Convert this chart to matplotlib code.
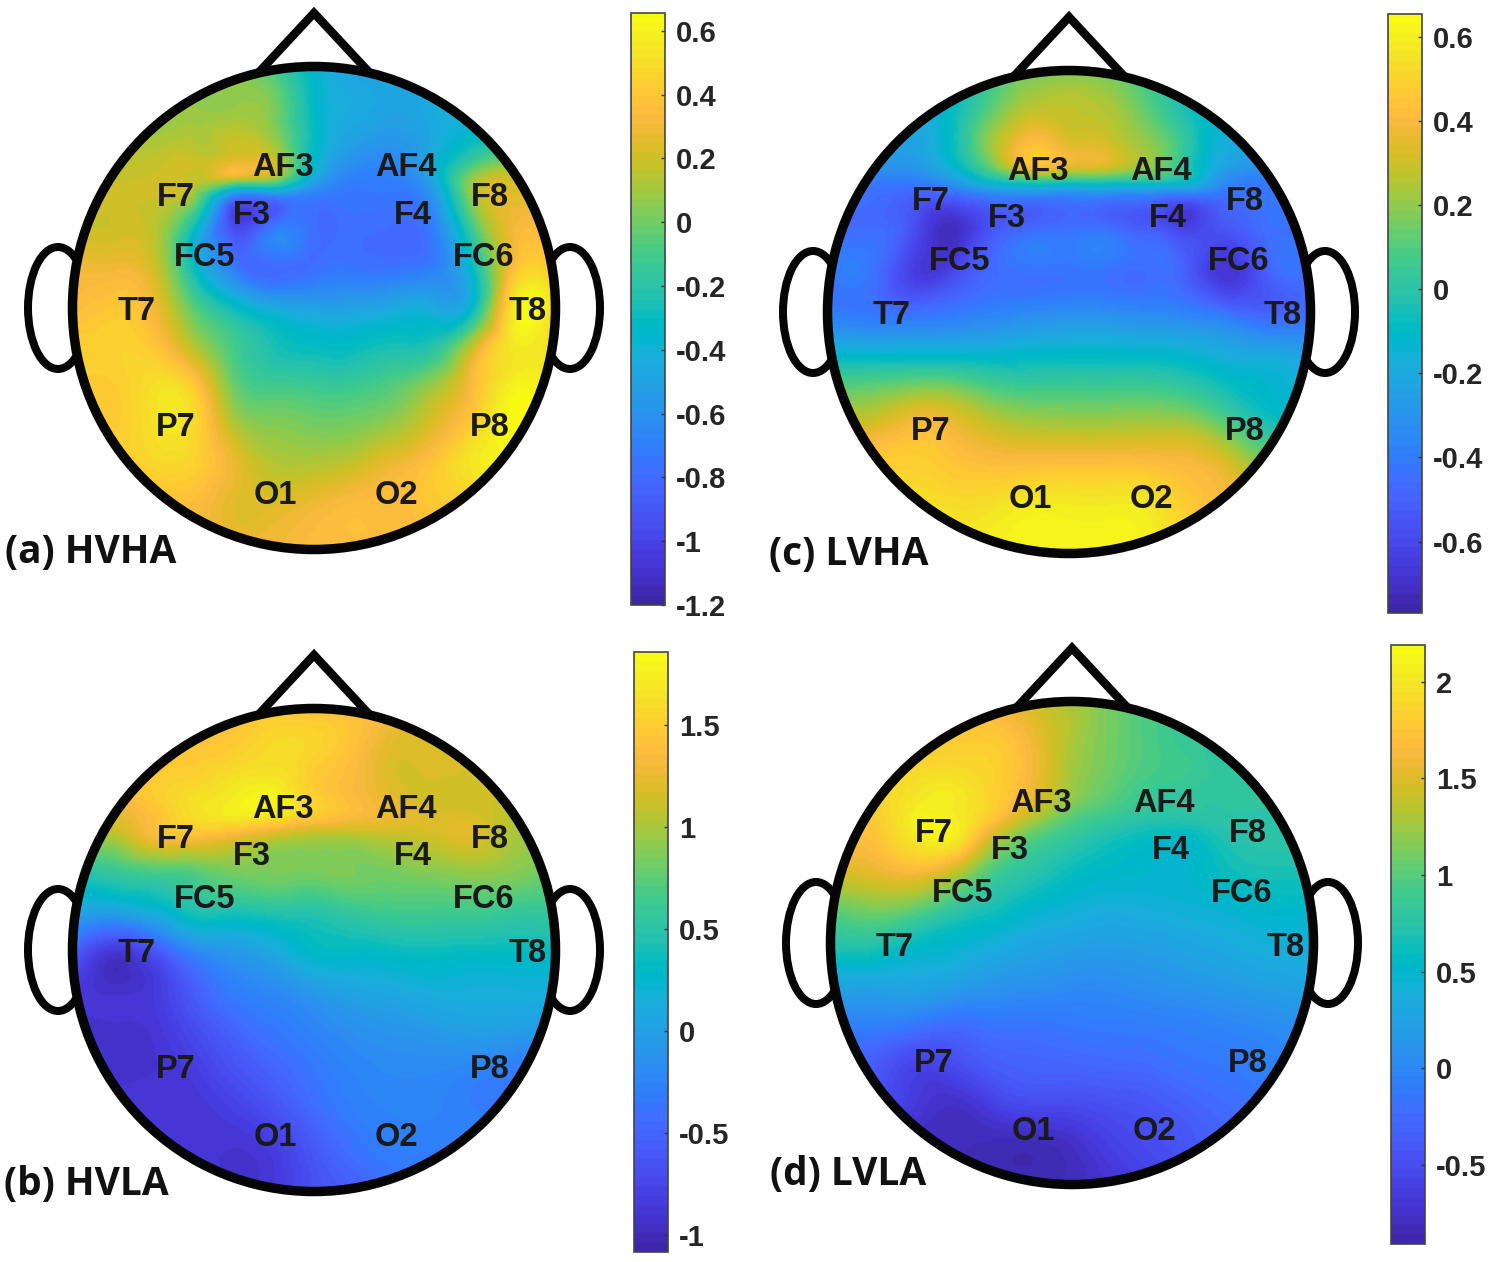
import numpy as np
import matplotlib
matplotlib.use("Agg")
import matplotlib.pyplot as plt
from matplotlib.colors import ListedColormap, Normalize
from matplotlib.cm import ScalarMappable
from matplotlib.patches import Circle, Ellipse
from matplotlib.tri import Triangulation, CubicTriInterpolator

W, H = 1499, 1262
PARULA = ListedColormap(np.array([
 [.2422,.1504,.6603],[.2504,.1650,.7076],[.2578,.1818,.7511],[.2647,.1978,.7952],[.2706,.2147,.8364],
 [.2751,.2342,.8710],[.2783,.2559,.8991],[.2803,.2782,.9221],[.2813,.3006,.9414],[.2810,.3228,.9579],
 [.2795,.3447,.9717],[.2760,.3667,.9829],[.2699,.3892,.9906],[.2602,.4123,.9952],[.2440,.4358,.9988],
 [.2206,.4603,.9973],[.1963,.4847,.9892],[.1834,.5074,.9798],[.1786,.5289,.9682],[.1764,.5499,.9520],
 [.1687,.5703,.9359],[.1540,.5902,.9218],[.1460,.6091,.9079],[.1380,.6276,.8973],[.1248,.6459,.8883],
 [.1113,.6635,.8763],[.0952,.6798,.8598],[.0689,.6948,.8394],[.0297,.7082,.8163],[.0036,.7203,.7917],
 [.0067,.7312,.7660],[.0433,.7411,.7394],[.0964,.7500,.7120],[.1408,.7584,.6842],[.1717,.7670,.6554],
 [.1938,.7758,.6251],[.2161,.7843,.5923],[.2470,.7918,.5567],[.2906,.7973,.5188],[.3406,.8008,.4789],
 [.3909,.8029,.4354],[.4456,.8024,.3909],[.5044,.7993,.3480],[.5616,.7942,.3045],[.6174,.7876,.2612],
 [.6720,.7793,.2227],[.7242,.7698,.1910],[.7738,.7598,.1646],[.8203,.7498,.1535],[.8634,.7406,.1596],
 [.9035,.7330,.1774],[.9393,.7288,.2100],[.9728,.7298,.2394],[.9956,.7434,.2371],[.9970,.7659,.2199],
 [.9952,.7893,.2028],[.9892,.8136,.1885],[.9786,.8386,.1766],[.9676,.8639,.1643],[.9610,.8890,.1537],
 [.9597,.9135,.1423],[.9628,.9373,.1265],[.9691,.9606,.1064],[.9769,.9839,.0805]]))

# scalp sample positions (relative units, 1 unit = 1 px of the reference head)
grid_x = [-240,-200,-160,-120,-80,-40,0,40,80,120,160,200,240]
grid_y = [-240,-200,-160,-145,-130,-115,-80,-40,0,40,80,120,160,200,240]

channels = ["AF3","AF4","F7","F8","F3","F4","FC5","FC6","T7","T8","P7","P8","O1","O2"]
channel_x = [-31,92,-138,176,-62,99,-109,170,-177,214,-138,176,-39,82]
channel_y = [-143,-143,-113,-113,-96,-96,-53,-53,1,1,117,117,185,185]

scalp_a = [
 [.08,.08,.08,.08,.08,-.1,-.35,-.5,-.5,-.5,-.45,-.4,-.4],
 [.08,.08,.08,.08,.08,.02,-.32,-.45,-.5,-.45,-.4,-.35,-.35],
 [.14,.14,.14,.15,.2,.12,-.32,-.55,-.6,-.45,-.25,-.15,-.15],
 [.15,.15,.18,.2,.28,.22,-.35,-.62,-.65,-.42,-.1,.05,.05],
 [.18,.18,.2,.18,.2,.08,-.45,-.7,-.7,-.45,.08,.2,.2],
 [.2,.2,.2,.08,-.55,-.55,-.68,-.74,-.74,-.55,.1,.25,.25],
 [.2,.2,.15,-.3,-.95,-.72,-.78,-.78,-.8,-.7,-.1,.3,.3],
 [.3,.3,.2,-.3,-.72,-.8,-.78,-.75,-.75,-.7,-.3,.35,.4],
 [.35,.4,.3,-.05,-.3,-.45,-.5,-.5,-.45,-.45,-.3,.55,.5],
 [.45,.45,.4,.15,-.1,-.25,-.3,-.3,-.25,-.2,.2,.55,.5],
 [.42,.42,.52,.42,0,-.1,-.12,-.12,-.05,.1,.35,.6,.55],
 [.42,.42,.52,.48,.15,.05,.02,.03,.1,.25,.45,.65,.6],
 [.42,.42,.46,.44,.28,.15,.15,.2,.3,.4,.55,.55,.55],
 [.35,.35,.35,.35,.25,.25,.3,.35,.35,.4,.4,.4,.4],
 [.3,.3,.3,.3,.3,.3,.35,.35,.35,.35,.35,.35,.35]]

scalp_c = [
 [-.1,-.1,-.1,-.1,.05,.15,.17,.15,.05,-.05,-.1,-.1,-.1],
 [-.2,-.2,-.2,-.1,.12,.28,.28,.25,.12,-.05,-.15,-.2,-.2],
 [-.25,-.25,-.25,-.1,.2,.46,.38,.34,.22,0,-.2,-.25,-.25],
 [-.3,-.3,-.3,-.15,.12,.4,.34,.31,.2,-.02,-.25,-.3,-.3],
 [-.4,-.4,-.4,-.3,-.1,0,-.02,-.02,-.03,-.1,-.35,-.4,-.4],
 [-.45,-.45,-.5,-.5,-.4,-.38,-.38,-.38,-.4,-.45,-.45,-.42,-.42],
 [-.45,-.45,-.55,-.72,-.55,-.45,-.43,-.43,-.5,-.6,-.55,-.45,-.45],
 [-.42,-.42,-.62,-.62,-.47,-.43,-.43,-.43,-.45,-.52,-.68,-.5,-.45],
 [-.4,-.42,-.45,-.42,-.38,-.35,-.33,-.33,-.35,-.38,-.45,-.5,-.45],
 [-.15,-.15,-.15,-.15,-.15,-.13,-.12,-.12,-.13,-.15,-.2,-.22,-.25],
 [.15,.15,.2,.2,.12,.08,.08,.08,.08,.04,-.05,-.12,-.15],
 [.35,.35,.42,.4,.32,.28,.27,.27,.28,.27,.15,0,-.05],
 [.5,.5,.5,.47,.45,.46,.47,.47,.46,.42,.35,.2,.2],
 [.5,.5,.55,.55,.56,.6,.6,.6,.58,.48,.4,.35,.35],
 [.6,.6,.6,.6,.6,.62,.62,.62,.6,.55,.5,.5,.5]]

scalp_b = [
 [1.4,1.4,1.4,1.4,1.4,1.45,1.4,1.4,1.3,1.25,1.2,1.2,1.2],
 [1.4,1.4,1.4,1.45,1.5,1.6,1.55,1.4,1.2,1.2,1.15,1.15,1.15],
 [1.4,1.4,1.5,1.6,1.7,1.75,1.5,1.35,1.2,1.15,1.15,1.15,1.15],
 [1.3,1.3,1.45,1.65,1.75,1.8,1.55,1.38,1.25,1.15,1.15,1.1,1.1],
 [1.2,1.2,1.4,1.6,1.65,1.55,1.4,1.3,1.25,1.2,1.2,1.05,1.05],
 [1.05,1.05,1.35,1.4,1.3,1.15,1.05,1.05,1.1,1.15,1.2,1.0,1.0],
 [.5,.6,.7,.75,.85,.85,.85,.85,.85,.9,.95,.9,.8],
 [.05,.05,.2,.45,.45,.5,.5,.6,.65,.65,.65,.6,.6],
 [-.5,-.85,-.6,-.2,-.05,.1,.3,.32,.35,.37,.35,.35,.35],
 [-.85,-.92,-.85,-.55,-.3,-.2,-.05,.05,.1,.15,.15,.15,.15],
 [-.92,-.92,-.88,-.7,-.5,-.35,-.25,-.15,-.1,-.05,0,-.02,-.02],
 [-.92,-.92,-.9,-.82,-.65,-.5,-.35,-.25,-.2,-.2,-.25,-.3,-.3],
 [-.88,-.88,-.88,-.88,-.8,-.65,-.45,-.3,-.25,-.25,-.3,-.3,-.3],
 [-.88,-.88,-.88,-.88,-.9,-.82,-.6,-.4,-.3,-.3,-.3,-.3,-.3],
 [-.9,-.9,-.9,-.9,-.9,-.85,-.65,-.55,-.4,-.35,-.3,-.3,-.3]]

scalp_d = [
 [1.7,1.7,1.7,1.7,1.6,1.45,1.3,1.1,.95,.9,.85,.85,.85],
 [1.8,1.8,1.8,1.8,1.8,1.6,1.3,1.1,.95,.85,.8,.8,.8],
 [1.9,1.9,1.95,2.0,1.85,1.6,1.25,1.05,.9,.85,.8,.8,.8],
 [1.85,1.85,2.0,2.05,1.85,1.55,1.2,1.0,.85,.8,.8,.8,.8],
 [1.8,1.8,2.05,2.05,1.8,1.4,1.05,.9,.8,.78,.78,.78,.78],
 [1.75,1.75,2.05,2.1,1.6,1.15,.9,.75,.65,.65,.75,.78,.78],
 [1.6,1.6,1.75,1.6,1.05,.8,.65,.55,.5,.5,.65,.7,.7],
 [1.1,1.2,1.15,.9,.7,.55,.45,.4,.42,.45,.5,.55,.55],
 [.75,.75,.6,.5,.4,.3,.25,.22,.25,.3,.35,.4,.4],
 [.3,.3,.3,.25,.15,.1,.05,.05,.1,.15,.2,.25,.3],
 [-.05,-.05,-.1,-.2,-.15,-.15,-.12,-.1,-.08,-.05,0,.05,.1],
 [-.35,-.35,-.55,-.5,-.35,-.3,-.28,-.25,-.22,-.15,-.12,-.05,0],
 [-.5,-.5,-.65,-.75,-.6,-.5,-.5,-.45,-.4,-.3,-.22,-.15,-.15],
 [-.8,-.8,-.8,-.8,-.82,-.82,-.75,-.6,-.5,-.4,-.3,-.3,-.3],
 [-.82,-.82,-.82,-.82,-.82,-.82,-.8,-.7,-.6,-.5,-.4,-.4,-.4]]

ticks_a = [-1.2,-1,-.8,-.6,-.4,-.2,0,.2,.4,.6]
ticks_b = [-1,-.5,0,.5,1,1.5]
ticks_c = [-.6,-.4,-.2,0,.2,.4,.6]
ticks_d = [-.5,0,.5,1,1.5,2]
labels_a = ["-1.2","-1","-0.8","-0.6","-0.4","-0.2","0","0.2","0.4","0.6"]
labels_b = ["-1","-0.5","0","0.5","1","1.5"]
labels_c = ["-0.6","-0.4","-0.2","0","0.2","0.4","0.6"]
labels_d = ["-0.5","0","0.5","1","1.5","2"]

panels = [
 dict(name="(a) HVHA", data=scalp_a, c=(314,308), vlim=(-1.2,.656), ticks=ticks_a, labels=labels_a, bar=(631,13,665,605), title=(5,552)),
 dict(name="(c) LVHA", data=scalp_c, c=(1069,312), vlim=(-.77,.655), ticks=ticks_c, labels=labels_c, bar=(1388,14,1422,613), title=(769,555)),
 dict(name="(b) HVLA", data=scalp_b, c=(314,950), vlim=(-1.083,1.858), ticks=ticks_b, labels=labels_b, bar=(634,652,668,1252), title=(4,1185)),
 dict(name="(d) LVLA", data=scalp_d, c=(1072,943), vlim=(-.91,2.19), ticks=ticks_d, labels=labels_d, bar=(1391,645,1425,1244), title=(770,1175)),
]

fig = plt.figure(figsize=(W/100, H/100), dpi=100, facecolor="white")
px = 0.72  # points per pixel
ink = "#050505"

def rect(x0, y0, x1, y1):
    return [x0/W, 1-y1/H, (x1-x0)/W, (y1-y0)/H]

for p in panels:
    cx, cy = p["c"]
    S = 325
    ax = fig.add_axes(rect(cx-S, cy-S, cx+S, cy+S))
    ax.set_xlim(-S, S); ax.set_ylim(S, -S); ax.axis("off"); ax.patch.set_alpha(0)
    norm = Normalize(*p["vlim"])

    gx, gy = np.meshgrid(grid_x, grid_y)
    tri = Triangulation(gx.ravel().astype(float), gy.ravel().astype(float))
    interp = CubicTriInterpolator(tri, np.array(p["data"], float).ravel(), kind="min_E")
    fx = np.linspace(-240, 240, 241)
    fy = np.linspace(-240, 240, 241)
    FX, FY = np.meshgrid(fx, fy)
    Z = np.ma.filled(interp(FX, FY), np.nan)

    for sx in (-1, 1):
        ax.add_patch(Ellipse((sx*256, 0), 60, 122, fc="white", ec=ink, lw=8*px, zorder=1))
    ax.plot([-53,0,53], [-238,-295,-238], color=ink, lw=8.5*px, solid_joinstyle="miter", zorder=1)

    ax.add_patch(Circle((0,0), 242, fc="white", ec="none", zorder=2))
    im = ax.imshow(Z, extent=(-240,240,240,-240), cmap=PARULA, norm=norm, interpolation="bilinear", zorder=3, aspect="auto")
    im.set_clip_path(Circle((0,0), 242, transform=ax.transData))
    ax.add_patch(Circle((0,0), 241.5, fc="none", ec=ink, lw=9.5*px, zorder=4))
    ax.set_xlim(-S, S); ax.set_ylim(S, -S)

    for name, x, y in zip(channels, channel_x, channel_y):
        ax.text(x, y+3, name, ha="center", va="center", fontsize=23.5, fontweight="bold",
                family="Liberation Sans", color="#1a1a1a", zorder=5)

    fig.text(p["title"][0]/W, 1-p["title"][1]/H, p["name"], ha="left", va="center",
             fontsize=28, fontweight="bold", family="Open Sans", color="#111111")

    cax = fig.add_axes(rect(*p["bar"]))
    cb = fig.colorbar(ScalarMappable(norm=norm, cmap=PARULA), cax=cax)
    cb.set_ticks(p["ticks"], labels=p["labels"])
    cb.outline.set_edgecolor("#444444"); cb.outline.set_linewidth(1.2)
    cb.ax.tick_params(direction="in", length=3, width=1, color="#333333", pad=8,
                      labelsize=21, labelcolor="#262626")
    for t in cb.ax.get_yticklabels():
        t.set_family("Liberation Sans"); t.set_fontweight("bold")

fig.savefig("out.png", dpi=100, facecolor="white")
